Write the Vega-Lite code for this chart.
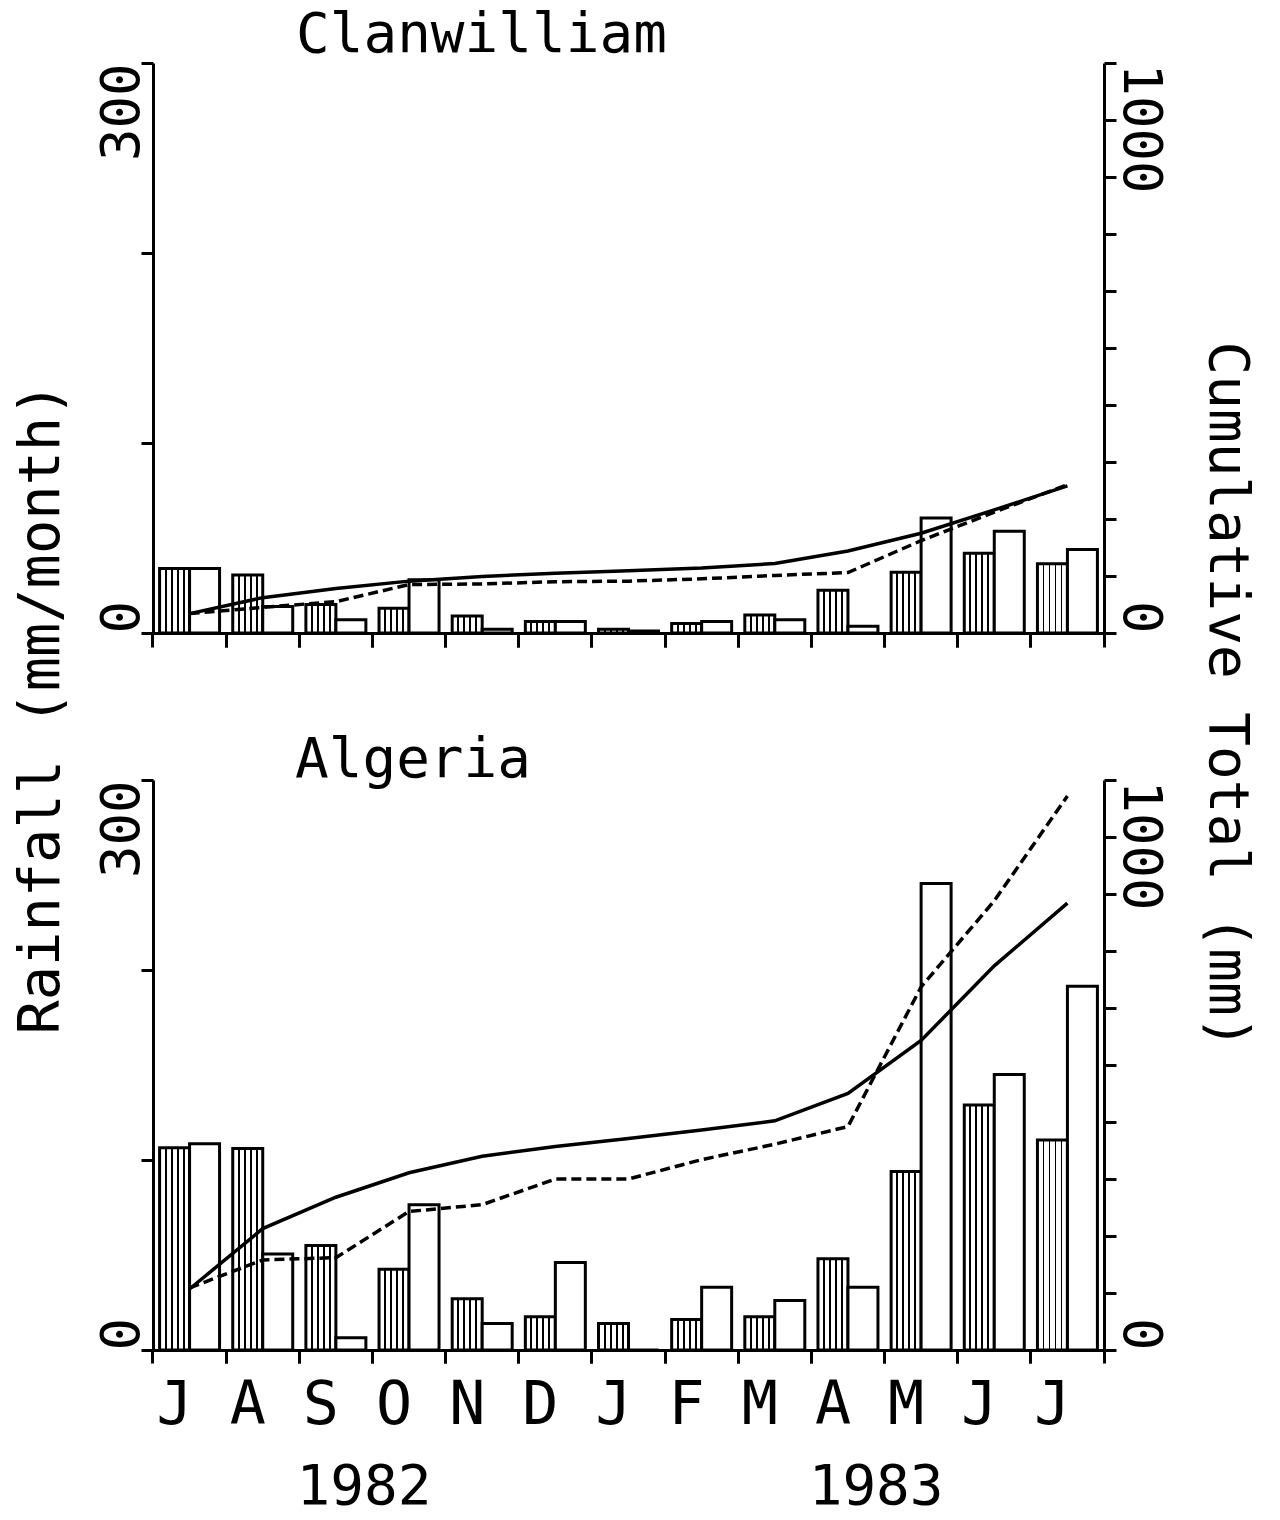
{
  "$schema": "https://vega.github.io/schema/vega-lite/v6.json",
  "background": "white",
  "padding": {"left": 12, "top": 6, "right": 20, "bottom": 4},
  "bounds": "flush",
  "spacing": 147,
  "config": {
    "view": {"stroke": null},
    "font": "DejaVu Sans Mono",
    "axis": {
      "grid": false,
      "domainColor": "black",
      "domainWidth": 3,
      "tickColor": "black",
      "tickWidth": 3,
      "labelColor": "black",
      "titleColor": "black",
      "labelFont": "DejaVu Sans Mono",
      "titleFont": "DejaVu Sans Mono",
      "titleFontWeight": "normal"
    },
    "title": {
      "font": "DejaVu Sans Mono",
      "fontSize": 56,
      "fontWeight": "normal",
      "color": "black",
      "anchor": "start",
      "frame": "group",
      "baseline": "alphabetic"
    }
  },
  "datasets": {
    "rain": [
      {"station": "Clanwilliam", "month": "Jul 1982", "series": "mean", "rain": 34, "total": 34},
      {"station": "Clanwilliam", "month": "Aug 1982", "series": "mean", "rain": 30.5, "total": 62},
      {"station": "Clanwilliam", "month": "Sep 1982", "series": "mean", "rain": 15, "total": 78},
      {"station": "Clanwilliam", "month": "Oct 1982", "series": "mean", "rain": 13, "total": 91},
      {"station": "Clanwilliam", "month": "Nov 1982", "series": "mean", "rain": 9, "total": 99},
      {"station": "Clanwilliam", "month": "Dec 1982", "series": "mean", "rain": 6, "total": 105},
      {"station": "Clanwilliam", "month": "Jan 1983", "series": "mean", "rain": 2, "total": 109},
      {"station": "Clanwilliam", "month": "Feb 1983", "series": "mean", "rain": 5, "total": 114},
      {"station": "Clanwilliam", "month": "Mar 1983", "series": "mean", "rain": 9.5, "total": 122},
      {"station": "Clanwilliam", "month": "Apr 1983", "series": "mean", "rain": 22.5, "total": 144},
      {"station": "Clanwilliam", "month": "May 1983", "series": "mean", "rain": 32, "total": 175},
      {"station": "Clanwilliam", "month": "Jun 1983", "series": "mean", "rain": 42, "total": 216},
      {"station": "Clanwilliam", "month": "Jul 1983", "series": "mean", "rain": 36.5, "total": 258},
      {"station": "Clanwilliam", "month": "Jul 1982", "series": "season", "rain": 34, "total": 34},
      {"station": "Clanwilliam", "month": "Aug 1982", "series": "season", "rain": 14, "total": 45},
      {"station": "Clanwilliam", "month": "Sep 1982", "series": "season", "rain": 7, "total": 55},
      {"station": "Clanwilliam", "month": "Oct 1982", "series": "season", "rain": 28, "total": 85},
      {"station": "Clanwilliam", "month": "Nov 1982", "series": "season", "rain": 2, "total": 86},
      {"station": "Clanwilliam", "month": "Dec 1982", "series": "season", "rain": 6, "total": 90},
      {"station": "Clanwilliam", "month": "Jan 1983", "series": "season", "rain": 1, "total": 91},
      {"station": "Clanwilliam", "month": "Feb 1983", "series": "season", "rain": 6, "total": 95},
      {"station": "Clanwilliam", "month": "Mar 1983", "series": "season", "rain": 7, "total": 101},
      {"station": "Clanwilliam", "month": "Apr 1983", "series": "season", "rain": 3.5, "total": 106},
      {"station": "Clanwilliam", "month": "May 1983", "series": "season", "rain": 60.5, "total": 162},
      {"station": "Clanwilliam", "month": "Jun 1983", "series": "season", "rain": 53.5, "total": 212},
      {"station": "Clanwilliam", "month": "Jul 1983", "series": "season", "rain": 44, "total": 260},
      {"station": "Algeria", "month": "Jul 1982", "series": "mean", "rain": 106.5, "total": 107},
      {"station": "Algeria", "month": "Aug 1982", "series": "mean", "rain": 106, "total": 213},
      {"station": "Algeria", "month": "Sep 1982", "series": "mean", "rain": 55, "total": 268},
      {"station": "Algeria", "month": "Oct 1982", "series": "mean", "rain": 42.5, "total": 311},
      {"station": "Algeria", "month": "Nov 1982", "series": "mean", "rain": 27, "total": 340},
      {"station": "Algeria", "month": "Dec 1982", "series": "mean", "rain": 17.5, "total": 357},
      {"station": "Algeria", "month": "Jan 1983", "series": "mean", "rain": 14, "total": 371},
      {"station": "Algeria", "month": "Feb 1983", "series": "mean", "rain": 16, "total": 386},
      {"station": "Algeria", "month": "Mar 1983", "series": "mean", "rain": 17.5, "total": 402},
      {"station": "Algeria", "month": "Apr 1983", "series": "mean", "rain": 48, "total": 450},
      {"station": "Algeria", "month": "May 1983", "series": "mean", "rain": 94, "total": 543},
      {"station": "Algeria", "month": "Jun 1983", "series": "mean", "rain": 129, "total": 674},
      {"station": "Algeria", "month": "Jul 1983", "series": "mean", "rain": 110.5, "total": 784},
      {"station": "Algeria", "month": "Jul 1982", "series": "season", "rain": 108.5, "total": 109},
      {"station": "Algeria", "month": "Aug 1982", "series": "season", "rain": 50.5, "total": 158},
      {"station": "Algeria", "month": "Sep 1982", "series": "season", "rain": 6.5, "total": 162},
      {"station": "Algeria", "month": "Oct 1982", "series": "season", "rain": 76.5, "total": 243},
      {"station": "Algeria", "month": "Nov 1982", "series": "season", "rain": 14, "total": 255},
      {"station": "Algeria", "month": "Dec 1982", "series": "season", "rain": 46, "total": 300},
      {"station": "Algeria", "month": "Jan 1983", "series": "season", "rain": 0, "total": 300},
      {"station": "Algeria", "month": "Feb 1983", "series": "season", "rain": 33, "total": 334},
      {"station": "Algeria", "month": "Mar 1983", "series": "season", "rain": 26, "total": 361},
      {"station": "Algeria", "month": "Apr 1983", "series": "season", "rain": 33, "total": 392},
      {"station": "Algeria", "month": "May 1983", "series": "season", "rain": 245.5, "total": 637},
      {"station": "Algeria", "month": "Jun 1983", "series": "season", "rain": 145, "total": 788},
      {"station": "Algeria", "month": "Jul 1983", "series": "season", "rain": 191.5, "total": 972}
    ]
  },
  "vconcat": [
    {
      "title": {"text": "Clanwilliam", "dx": 143, "offset": -2},
      "width": 951,
      "height": 570,
      "data": {"name": "rain"},
      "transform": [{"filter": "datum.station === 'Clanwilliam'"}],
      "layer": [
        {
          "encoding": {
            "x": {
              "field": "month",
              "type": "nominal",
              "scale": {
                "domain": ["Jul 1982", "Aug 1982", "Sep 1982", "Oct 1982", "Nov 1982", "Dec 1982", "Jan 1983", "Feb 1983", "Mar 1983", "Apr 1983", "May 1983", "Jun 1983", "Jul 1983"],
                "paddingInner": 0.18,
                "paddingOuter": 0.09
              },
              "axis": {"orient": "bottom", "title": null, "labels": false, "tickSize": 14, "bandPosition": -0.1098}
            },
            "xOffset": {"field": "series", "type": "nominal", "scale": {"domain": ["mean", "season"], "paddingInner": 0, "paddingOuter": 0}},
            "y": {
              "field": "rain",
              "type": "quantitative",
              "scale": {"domain": [0, 300], "nice": false},
              "axis": {
                "orient": "left",
                "values": [0, 100, 200, 300],
                "format": "d",
                "tickSize": 12,
                "labelExpr": "datum.value == 0 || datum.value == 300 ? datum.label : ''",
                "labelFontSize": 54,
                "labelAngle": -90,
                "labelBaseline": "alphabetic",
                "labelAlign": {"condition": {"test": "datum.value == 0", "value": "left"}, "value": "right"},
                "labelPadding": 3,
                "title": "Rainfall (mm/month)",
                "titleFontSize": 57,
                "titleAngle": -90,
                "titleBaseline": "alphabetic",
                "titleAlign": "center",
                "titleX": -95,
                "titleY": 645
              }
            }
          },
          "layer": [
            {
              "transform": [{"filter": "datum.series === 'mean'"}],
              "mark": {
                "type": "bar",
                "stroke": "black",
                "strokeWidth": 3,
                "fill": {
                  "gradient": "linear", "x1": 0, "x2": 1, "y1": 0, "y2": 0,
                  "stops": [
                    {"offset": 0, "color": "white"}, {"offset": 0.17, "color": "white"},
                    {"offset": 0.17, "color": "black"}, {"offset": 0.235, "color": "black"},
                    {"offset": 0.235, "color": "white"}, {"offset": 0.37, "color": "white"},
                    {"offset": 0.37, "color": "black"}, {"offset": 0.435, "color": "black"},
                    {"offset": 0.435, "color": "white"}, {"offset": 0.57, "color": "white"},
                    {"offset": 0.57, "color": "black"}, {"offset": 0.635, "color": "black"},
                    {"offset": 0.635, "color": "white"}, {"offset": 0.77, "color": "white"},
                    {"offset": 0.77, "color": "black"}, {"offset": 0.835, "color": "black"},
                    {"offset": 0.835, "color": "white"}, {"offset": 1, "color": "white"}
                  ]
                }
              }
            },
            {
              "transform": [{"filter": "datum.series === 'season'"}],
              "mark": {"type": "bar", "fill": "white", "stroke": "black", "strokeWidth": 3}
            }
          ]
        },
        {
          "encoding": {
            "x": {
              "field": "month",
              "type": "nominal",
              "axis": {"orient": "bottom", "title": null, "labels": false, "domain": false, "tickSize": 14, "bandPosition": 1.1098}
            },
            "y": {
              "field": "total",
              "type": "quantitative",
              "scale": {"domain": [0, 1000], "nice": false},
              "axis": {
                "orient": "right",
                "values": [0, 100, 200, 300, 400, 500, 600, 700, 800, 900, 1000],
                "format": "d",
                "tickSize": 12,
                "labelExpr": "datum.value == 0 || datum.value == 1000 ? datum.label : ''",
                "labelFontSize": 54,
                "labelAngle": 90,
                "labelBaseline": "alphabetic",
                "labelAlign": {"condition": {"test": "datum.value == 0", "value": "right"}, "value": "left"},
                "labelPadding": 7,
                "title": "Cumulative Total (mm)",
                "titleFontSize": 56,
                "titleAngle": 90,
                "titleBaseline": "alphabetic",
                "titleAlign": "center",
                "titleX": 105,
                "titleY": 632
              }
            }
          },
          "layer": [
            {
              "transform": [{"filter": "datum.series === 'mean'"}],
              "mark": {"type": "line", "stroke": "black", "strokeWidth": 3.5}
            },
            {
              "transform": [{"filter": "datum.series === 'season'"}],
              "mark": {"type": "line", "stroke": "black", "strokeWidth": 3.5, "strokeDash": [10, 5]}
            }
          ]
        }
      ],
      "resolve": {"scale": {"y": "independent"}, "axis": {"y": "independent", "x": "independent"}}
    },
    {
      "title": {"text": "Algeria", "dx": 142, "offset": -10},
      "width": 951,
      "height": 570,
      "data": {"name": "rain"},
      "transform": [{"filter": "datum.station === 'Algeria'"}],
      "layer": [
        {
          "encoding": {
            "x": {
              "field": "month",
              "type": "nominal",
              "scale": {
                "domain": ["Jul 1982", "Aug 1982", "Sep 1982", "Oct 1982", "Nov 1982", "Dec 1982", "Jan 1983", "Feb 1983", "Mar 1983", "Apr 1983", "May 1983", "Jun 1983", "Jul 1983"],
                "paddingInner": 0.18,
                "paddingOuter": 0.09
              },
              "axis": {
                "orient": "bottom",
                "title": null,
                "tickSize": 13,
                "bandPosition": -0.1098,
                "labelExpr": "slice(datum.value, 0, 1)",
                "labelFontSize": 60,
                "labelAngle": 0,
                "labelAlign": "center",
                "labelBaseline": "top",
                "labelPadding": 13,
                "labelOffset": -15
              }
            },
            "xOffset": {"field": "series", "type": "nominal", "scale": {"domain": ["mean", "season"], "paddingInner": 0, "paddingOuter": 0}},
            "y": {
              "field": "rain",
              "type": "quantitative",
              "scale": {"domain": [0, 300], "nice": false},
              "axis": {
                "orient": "left",
                "values": [0, 100, 200, 300],
                "format": "d",
                "tickSize": 12,
                "labelExpr": "datum.value == 0 || datum.value == 300 ? datum.label : ''",
                "labelFontSize": 54,
                "labelAngle": -90,
                "labelBaseline": "alphabetic",
                "labelAlign": {"condition": {"test": "datum.value == 0", "value": "left"}, "value": "right"},
                "labelPadding": 3,
                "title": null
              }
            }
          },
          "layer": [
            {
              "transform": [{"filter": "datum.series === 'mean'"}],
              "mark": {
                "type": "bar",
                "stroke": "black",
                "strokeWidth": 3,
                "fill": {
                  "gradient": "linear", "x1": 0, "x2": 1, "y1": 0, "y2": 0,
                  "stops": [
                    {"offset": 0, "color": "white"}, {"offset": 0.17, "color": "white"},
                    {"offset": 0.17, "color": "black"}, {"offset": 0.235, "color": "black"},
                    {"offset": 0.235, "color": "white"}, {"offset": 0.37, "color": "white"},
                    {"offset": 0.37, "color": "black"}, {"offset": 0.435, "color": "black"},
                    {"offset": 0.435, "color": "white"}, {"offset": 0.57, "color": "white"},
                    {"offset": 0.57, "color": "black"}, {"offset": 0.635, "color": "black"},
                    {"offset": 0.635, "color": "white"}, {"offset": 0.77, "color": "white"},
                    {"offset": 0.77, "color": "black"}, {"offset": 0.835, "color": "black"},
                    {"offset": 0.835, "color": "white"}, {"offset": 1, "color": "white"}
                  ]
                }
              }
            },
            {
              "transform": [{"filter": "datum.series === 'season'"}],
              "mark": {"type": "bar", "fill": "white", "stroke": "black", "strokeWidth": 3}
            }
          ]
        },
        {
          "encoding": {
            "x": {
              "field": "month",
              "type": "nominal",
              "axis": {"orient": "bottom", "title": null, "labels": false, "domain": false, "tickSize": 13, "bandPosition": 1.1098}
            },
            "y": {
              "field": "total",
              "type": "quantitative",
              "scale": {"domain": [0, 1000], "nice": false},
              "axis": {
                "orient": "right",
                "values": [0, 100, 200, 300, 400, 500, 600, 700, 800, 900, 1000],
                "format": "d",
                "tickSize": 12,
                "labelExpr": "datum.value == 0 || datum.value == 1000 ? datum.label : ''",
                "labelFontSize": 54,
                "labelAngle": 90,
                "labelBaseline": "alphabetic",
                "labelAlign": {"condition": {"test": "datum.value == 0", "value": "right"}, "value": "left"},
                "labelPadding": 7,
                "title": null
              }
            }
          },
          "layer": [
            {
              "transform": [{"filter": "datum.series === 'mean'"}],
              "mark": {"type": "line", "stroke": "black", "strokeWidth": 3.5}
            },
            {
              "transform": [{"filter": "datum.series === 'season'"}],
              "mark": {"type": "line", "stroke": "black", "strokeWidth": 3.5, "strokeDash": [10, 5]}
            }
          ]
        }
      ],
      "resolve": {"scale": {"y": "independent"}, "axis": {"y": "independent", "x": "independent"}}
    },
    {
      "width": 951,
      "height": 14,
      "data": {"values": [{"year": "1982", "month": "Oct 1982"}, {"year": "1983", "month": "May 1983"}]},
      "mark": {"type": "text", "fontSize": 56, "baseline": "alphabetic", "align": "center", "dx": -45, "color": "black"},
      "encoding": {
        "x": {
          "field": "month",
          "type": "nominal",
          "scale": {
            "domain": ["Jul 1982", "Aug 1982", "Sep 1982", "Oct 1982", "Nov 1982", "Dec 1982", "Jan 1983", "Feb 1983", "Mar 1983", "Apr 1983", "May 1983", "Jun 1983", "Jul 1983"],
            "paddingInner": 0.18,
            "paddingOuter": 0.09
          },
          "axis": null
        },
        "text": {"field": "year"}
      }
    }
  ]
}
